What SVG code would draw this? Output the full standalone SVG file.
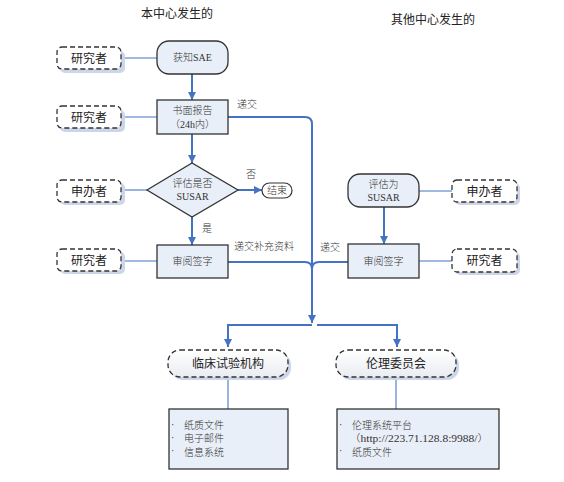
<svg xmlns="http://www.w3.org/2000/svg" width="564" height="482" viewBox="0 0 564 482">
<defs>
<marker id="ah" viewBox="0 0 10 10" refX="10" refY="5" markerWidth="4" markerHeight="4" orient="auto" markerUnits="strokeWidth">
<path d="M0,0 L10,5 L0,10 z" fill="#4472c4"/>
</marker>
<linearGradient id="pill" x1="0" y1="0" x2="0" y2="1">
<stop offset="0" stop-color="#ffffff"/>
<stop offset="1" stop-color="#e9ecf1"/>
</linearGradient>
</defs>
<style>
text{font-family:"Liberation Serif","Noto Sans CJK SC",serif;fill:#333;font-weight:300;}
.t12{font-size:12px;fill:#222;font-weight:400;}
.t10{font-size:10px;}
.lab{font-size:12px;font-family:"Liberation Sans","Noto Sans CJK SC",sans-serif;fill:#222;font-weight:400;}
.node{fill:#e9eff8;stroke:#333;stroke-width:1.3;}
.dash{fill:#fff;stroke:#333;stroke-width:1.3;stroke-dasharray:5,3;}
.shadow{fill:#ccd6e8;}
.arrow{fill:none;stroke:#4472c4;stroke-width:2;marker-end:url(#ah);}
.flow{fill:none;stroke:#4472c4;stroke-width:2;}
.thin{fill:none;stroke:#7fa2d8;stroke-width:1.6;}
</style>
<rect width="564" height="482" fill="#fff"/>
<text class="t12" x="177" y="18" text-anchor="middle">本中心发生的</text>
<text class="t12" x="433" y="24" text-anchor="middle">其他中心发生的</text>

<g id="connectors">
<line class="thin" x1="121" y1="58" x2="157" y2="58"/>
<line class="thin" x1="121" y1="117" x2="157" y2="117"/>
<line class="thin" x1="121" y1="190" x2="147" y2="190"/>
<line class="thin" x1="121" y1="261" x2="157" y2="261"/>
<line class="thin" x1="419" y1="191" x2="452" y2="191"/>
<line class="thin" x1="419" y1="261" x2="452" y2="261"/>
<line class="thin" x1="228" y1="377" x2="228" y2="409"/>
<line class="thin" x1="396" y1="377" x2="396" y2="409"/>
<line class="arrow" x1="192" y1="74" x2="192" y2="100"/>
<line class="arrow" x1="192" y1="134" x2="192" y2="163"/>
<line class="arrow" x1="192" y1="217" x2="192" y2="245"/>
<line class="arrow" x1="238" y1="190" x2="262" y2="190"/>
<line class="arrow" x1="384" y1="207" x2="384" y2="244"/>
<path class="flow" d="M228,117 H305 Q312,117 312,124 V300"/>
<path class="arrow" d="M312,290 V323"/>
<path class="flow" d="M228,262 H305 Q312,262 312,269"/>
<path class="flow" d="M348,262 H319 Q312,262 312,269"/>
<path class="arrow" d="M312,325 H228 V347"/>
<path class="arrow" d="M317,325 H397 V347"/>
<text class="t10" x="237" y="108">递交</text>
<text class="t10" x="246" y="178">否</text>
<text class="t10" x="202" y="232">是</text>
<text class="t10" x="234" y="250">递交补充资料</text>
<text class="t10" x="320" y="251">递交</text>
</g>

<g id="n-yjz1">
<rect class="shadow" x="60" y="51" width="65" height="22" rx="5"/>
<rect class="dash" x="57" y="47" width="64" height="22" rx="5"/>
<text class="lab" x="89" y="62.5" text-anchor="middle">研究者</text>
</g>
<g id="n-sae">
<rect class="node" x="157" y="41" width="71" height="33" rx="12"/>
<text class="t10" x="192.5" y="61" text-anchor="middle">获知SAE</text>
</g>
<g id="n-yjz2">
<rect class="shadow" x="60" y="110" width="65" height="22" rx="5"/>
<rect class="dash" x="57" y="106" width="64" height="22" rx="5"/>
<text class="lab" x="89" y="121.5" text-anchor="middle">研究者</text>
</g>
<g id="n-report">
<rect class="node" x="157" y="100" width="71" height="34"/>
<text class="t10" x="192.5" y="114" text-anchor="middle">书面报告</text>
<text class="t10" x="192.5" y="128" text-anchor="middle">（24h内）</text>
</g>
<g id="n-sbz1">
<rect class="shadow" x="60" y="183" width="65" height="22" rx="5"/>
<rect class="dash" x="57" y="180" width="64" height="22" rx="5"/>
<text class="lab" x="89" y="195.5" text-anchor="middle">申办者</text>
</g>
<g id="n-eval">
<polygon class="node" points="147,190 192,163 238,190 192,217"/>
<text class="t10" x="192.5" y="187" text-anchor="middle">评估是否</text>
<text class="t10" x="192.5" y="200" text-anchor="middle">SUSAR</text>
</g>
<g id="n-end">
<rect x="262" y="183" width="30" height="15" rx="7.5" fill="#fff" stroke="#333" stroke-width="1.2"/>
<text class="t10" x="277" y="194" text-anchor="middle">结束</text>
</g>
<g id="n-yjz3">
<rect class="shadow" x="60" y="252" width="65" height="22" rx="5"/>
<rect class="dash" x="57" y="249" width="64" height="22" rx="5"/>
<text class="lab" x="89" y="264.5" text-anchor="middle">研究者</text>
</g>
<g id="n-sign1">
<rect class="node" x="157" y="245" width="71" height="33"/>
<text class="t10" x="192.5" y="265" text-anchor="middle">审阅签字</text>
</g>
<g id="n-susar">
<rect class="node" x="348" y="174" width="71" height="33" rx="12"/>
<text class="t10" x="383.5" y="188" text-anchor="middle">评估为</text>
<text class="t10" x="383.5" y="201" text-anchor="middle">SUSAR</text>
</g>
<g id="n-sbz2">
<rect class="shadow" x="455" y="183" width="65" height="22" rx="5"/>
<rect class="dash" x="452" y="180" width="65" height="22" rx="5"/>
<text class="lab" x="484.5" y="195.5" text-anchor="middle">申办者</text>
</g>
<g id="n-sign2">
<rect class="node" x="348" y="244" width="71" height="34"/>
<text class="t10" x="383.5" y="265" text-anchor="middle">审阅签字</text>
</g>
<g id="n-yjz4">
<rect class="shadow" x="455" y="252" width="65" height="23" rx="5"/>
<rect class="dash" x="452" y="249" width="65" height="23" rx="5"/>
<text class="lab" x="484.5" y="264.5" text-anchor="middle">研究者</text>
</g>
<g id="n-inst">
<rect class="shadow" x="171" y="353" width="120" height="27" rx="12"/>
<rect class="dash" x="168" y="350" width="120" height="27" rx="12" style="fill:url(#pill)"/>
<text class="lab" x="228" y="368" text-anchor="middle">临床试验机构</text>
</g>
<g id="n-ethic">
<rect class="shadow" x="339" y="353" width="120" height="27" rx="12"/>
<rect class="dash" x="336" y="350" width="120" height="27" rx="12" style="fill:url(#pill)"/>
<text class="lab" x="396" y="368" text-anchor="middle">伦理委员会</text>
</g>
<g id="n-inst-list">
<rect class="node" x="169" y="409" width="119" height="60"/>
<text class="t10" x="171" y="428">·</text>
<text class="t10" x="184" y="429">纸质文件</text>
<text class="t10" x="171" y="441">·</text>
<text class="t10" x="184" y="442">电子邮件</text>
<text class="t10" x="171" y="454">·</text>
<text class="t10" x="184" y="456">信息系统</text>
</g>
<g id="n-ethic-list">
<rect class="node" x="337" y="409" width="162" height="60"/>
<text class="t10" x="339" y="428">·</text>
<text class="t10" x="352" y="429">伦理系统平台</text>
<text class="t10" x="349" y="442" textLength="140" lengthAdjust="spacingAndGlyphs">（http://223.71.128.8:9988/）</text>
<text class="t10" x="339" y="454">·</text>
<text class="t10" x="352" y="456">纸质文件</text>
</g>
</svg>
